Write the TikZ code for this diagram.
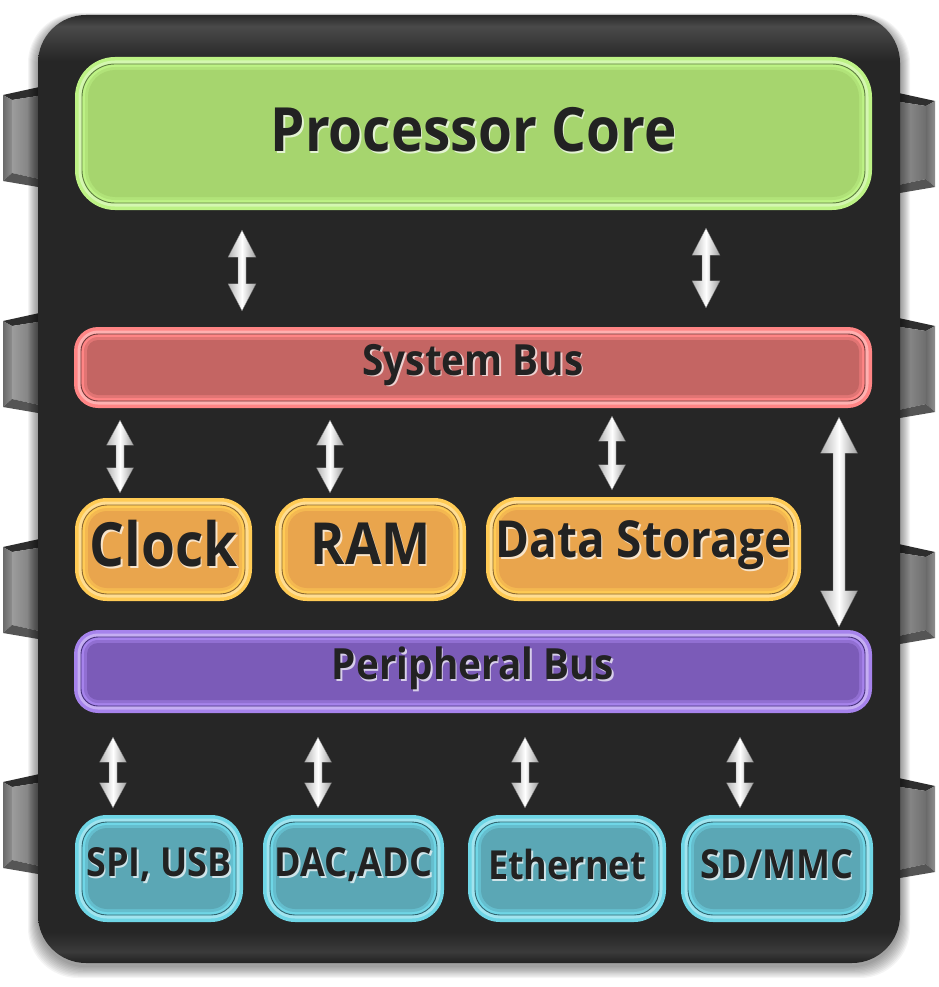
\documentclass[tikz,border=0pt]{standalone}
\usepackage{fontspec}
\setmainfont{Open Sans}
\newfontfamily\labfont{Open Sans}[FakeStretch=0.9]
\usetikzlibrary{calc}
\definecolor{txt}{HTML}{222222}
\definecolor{gRing}{HTML}{BDF285}
\definecolor{gFill}{HTML}{A6D56E}
\definecolor{gLine}{HTML}{5E7D40}
\definecolor{rRing}{HTML}{FF8585}
\definecolor{rFill}{HTML}{C46563}
\definecolor{rLine}{HTML}{6E3838}
\definecolor{oRing}{HTML}{FFCB55}
\definecolor{oFill}{HTML}{E9A54D}
\definecolor{oLine}{HTML}{8A6630}
\definecolor{pRing}{HTML}{A683EC}
\definecolor{pFill}{HTML}{7B5BB8}
\definecolor{pLine}{HTML}{45307A}
\definecolor{cRing}{HTML}{6FD6E6}
\definecolor{cFill}{HTML}{5BA7B5}
\definecolor{cLine}{HTML}{2F6570}
\definecolor{pinDark}{HTML}{2E2E2E}
\definecolor{pinMid}{HTML}{555555}
\definecolor{pinO1}{HTML}{6A6A6A}
\definecolor{pinO2}{HTML}{8E8E8E}
\definecolor{pinF1}{HTML}{9C9C9C}
\definecolor{pinF2}{HTML}{6E6E6E}
\pgfdeclareverticalshading{bodysh}{100bp}{rgb(0bp)=(0.13,0.13,0.13); rgb(25bp)=(0.13,0.13,0.13); rgb(25.6bp)=(0.23,0.23,0.23); rgb(26.6bp)=(0.15,0.15,0.15); rgb(72.6bp)=(0.15,0.15,0.15); rgb(74.4bp)=(0.29,0.29,0.29); rgb(75bp)=(0.16,0.16,0.16); rgb(100bp)=(0.16,0.16,0.16)}
% #1 glow colour, #2 raise, #3 text
\newcommand\gl[3]{\raisebox{#2}[\height][\depth]{\rlap{\kern1.6pt\raisebox{-1.6pt}{\textcolor{#1!30!white}{#3}}}#3}}
\newcommand\pin[1]{%
 \fill[pinDark] (3,#1+9) -- (44,#1) -- (44,#1+9) -- (12,#1+14) -- cycle;
 \shade[left color=pinO1, right color=pinO2] (3,#1+9) -- (12,#1+14) -- (12,#1+87) -- (3,#1+95) -- cycle;
 \shade[left color=pinF1, right color=pinF2] (12,#1+14) -- (44,#1+9) -- (44,#1+94) -- (12,#1+87) -- cycle;
 \fill[pinMid] (3,#1+95) -- (12,#1+87) -- (44,#1+94) -- (44,#1+102) -- cycle;}
\newcommand\darr[7]{%
 \shadedraw[arrsty] let \p1=($(#1)+(0,#3)$), \p2=($(#2)-(0,#4)$) in
  (\x1,\y1) -- (\x1+#5,\y1-#6) -- (\x1+#7,\y1-#6) -- (\x1+#7,\y2+#6) -- (\x1+#5,\y2+#6) -- (\x1,\y2)
  -- (\x1-#5,\y2+#6) -- (\x1-#7,\y2+#6) -- (\x1-#7,\y1-#6) -- (\x1-#5,\y1-#6) -- cycle;}
\tikzset{
 arrsty/.style={left color=gray!60, right color=gray!75, middle color=white, draw=black!55, line width=0.3pt},
 gbox/.style n args={4}{draw=none, fill=#1, rounded corners=#4pt, inner sep=0pt, text=txt,
   path picture={
     \pgfmathsetmacro\ra{#4-3.5}\pgfmathsetmacro\rb{#4-7}\pgfmathsetmacro\rc{#4-10}\pgfmathsetmacro\rd{#4-13}
     \coordinate (pNW) at (path picture bounding box.north west);
     \coordinate (pSE) at (path picture bounding box.south east);
     \fill[#1!65!white, rounded corners=\ra pt] ($(pNW)+(3.5,3.5)$) rectangle ($(pSE)+(-3.5,-3.5)$);
     \fill[#1, rounded corners=\rb pt] ($(pNW)+(7,7)$) rectangle ($(pSE)+(-7,-7)$);
     \fill[#1!50!#2, rounded corners=\rc pt] ($(pNW)+(10,10)$) rectangle ($(pSE)+(-10,-10)$);
     \fill[#2, rounded corners=\rd pt] ($(pNW)+(13,13)$) rectangle ($(pSE)+(-13,-13)$);
     \draw[#3, line width=0.9pt, rounded corners=\rb pt] ($(pNW)+(7,7)$) rectangle ($(pSE)+(-7,-7)$);
   }},
 fbig/.style={font=\labfont\bfseries\fontsize{61pt}{61pt}\selectfont},
 fram/.style={font=\labfont\bfseries\fontsize{58pt}{58pt}\selectfont},
 fmid/.style={font=\labfont\bfseries\fontsize{51pt}{51pt}\selectfont},
 fbus/.style={font=\labfont\bfseries\fontsize{43pt}{43pt}\selectfont},
 fsml/.style={font=\labfont\bfseries\fontsize{40pt}{40pt}\selectfont},
}
\begin{document}
\begin{tikzpicture}[x=1pt,y=-1pt]
\useasboundingbox (0,0) rectangle (938,987);
\fill[white] (0,0) rectangle (938,987);
% pins
\foreach \T in {86,312,538,773} {\pin{\T}}
\begin{scope}[xshift=938pt, xscale=-1]
\foreach \T in {92,317,543,777} {\pin{\T}}
\end{scope}
% body shadow
\foreach \i in {1,...,10} {\fill[black, opacity=0.045, rounded corners=50pt] (38-\i,18-0.5*\i) rectangle (900+\i,966+1.2*\i);}
% body
\shade[shading=bodysh, rounded corners=48pt] (38,15) rectangle (900,963);
% boxes
\node[gbox={gRing}{gFill}{gLine}{40}, minimum width=797pt, minimum height=153pt, fbig] (core) at (473.5,133.5) {\gl{gFill}{3pt}{Processor Core}};
\node[gbox={rRing}{rFill}{rLine}{24}, minimum width=798pt, minimum height=81pt, fbus] (sys) at (473,367.5) {\gl{rFill}{2pt}{System Bus}};
\node[gbox={oRing}{oFill}{oLine}{32}, minimum width=177pt, minimum height=103pt, fbig] (clock) at (163.5,549.5) {\gl{oFill}{5pt}{Clock}\hspace{9pt}};
\node[gbox={oRing}{oFill}{oLine}{32}, minimum width=191pt, minimum height=103pt, fram] (ram) at (370.5,549.5) {\gl{oFill}{5pt}{RAM}};
\node[gbox={oRing}{oFill}{oLine}{32}, minimum width=315pt, minimum height=104pt, fmid] (stor) at (643.5,549) {\gl{oFill}{3pt}{Data Storage}};
\node[gbox={pRing}{pFill}{pLine}{24}, minimum width=798pt, minimum height=83pt, fbus] (per) at (473,671.5) {\gl{pFill}{2pt}{Peripheral Bus}};
\node[gbox={cRing}{cFill}{cLine}{32}, minimum width=168pt, minimum height=107pt, fsml] (spi) at (159,868.5) {\gl{cFill}{3pt}{SPI, USB}};
\node[gbox={cRing}{cFill}{cLine}{32}, minimum width=181pt, minimum height=107pt, fsml] (dac) at (353.5,868.5) {\gl{cFill}{3pt}{DAC,ADC}};
\node[gbox={cRing}{cFill}{cLine}{32}, minimum width=198pt, minimum height=107pt, fsml] (eth) at (567,868.5) {\gl{cFill}{3pt}{Ethernet}};
\node[gbox={cRing}{cFill}{cLine}{32}, minimum width=192pt, minimum height=107pt, fsml] (sd) at (777,868.5) {\gl{cFill}{3pt}{SD/MMC}};
% arrow columns
\coordinate (xa) at (242,0);
\coordinate (xb) at (706,0);
\coordinate (xc) at (120,0);
\coordinate (xd) at (330,0);
\coordinate (xe) at (612,0);
\coordinate (xf) at (839,0);
\coordinate (xg) at (113,0);
\coordinate (xh) at (318,0);
\coordinate (xi) at (525,0);
\coordinate (xj) at (740,0);
\darr{core.south -| xa}{sys.north -| xa}{20}{16}{14pt}{27pt}{4pt}
\darr{core.south -| xb}{sys.north -| xb}{18}{19}{14pt}{27pt}{4pt}
\darr{sys.south -| xc}{clock.north -| xc}{12}{5}{13.5pt}{25pt}{4pt}
\darr{sys.south -| xd}{ram.north -| xd}{12}{5}{13.5pt}{25pt}{4pt}
\darr{sys.south -| xe}{stor.north -| xe}{8}{7}{13.5pt}{25pt}{4pt}
\darr{sys.south -| xf}{per.north -| xf}{9}{3}{18.5pt}{36pt}{6pt}
\darr{per.south -| xg}{spi.north -| xg}{24}{7}{13.5pt}{25pt}{4pt}
\darr{per.south -| xh}{dac.north -| xh}{24}{7}{13.5pt}{25pt}{4pt}
\darr{per.south -| xi}{eth.north -| xi}{24}{7}{13.5pt}{25pt}{4pt}
\darr{per.south -| xj}{sd.north -| xj}{24}{7}{13.5pt}{25pt}{4pt}
\end{tikzpicture}
\end{document}
